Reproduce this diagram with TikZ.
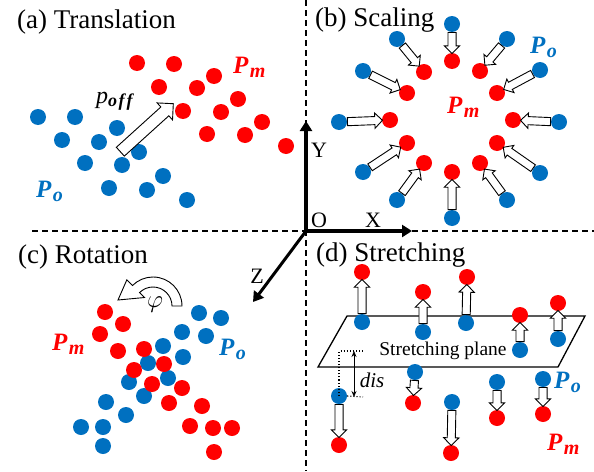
\documentclass[tikz,border=0pt]{standalone}
\usepackage{fontspec}
\setmainfont{LiberationSerif}[Extension=.ttf, UprightFont=*-Regular, BoldFont=*-Bold, ItalicFont=*-Italic, BoldItalicFont=*-BoldItalic]
\newfontfamily\tnr{LiberationSerif}[Extension=.ttf, UprightFont=*-Regular, BoldFont=*-Bold, ItalicFont=*-Italic, BoldItalicFont=*-BoldItalic]
\usetikzlibrary{shapes.arrows, arrows.meta, calc}
\definecolor{redc}{RGB}{255,0,0}
\definecolor{bluec}{RGB}{0,112,192}
\tikzset{
  every node/.style={font=\tnr},
  dot/.style={circle, inner sep=0pt, minimum size=16pt},
  bd/.style={dot, fill=bluec},
  rd/.style={dot, fill=redc},
  blk/.style={single arrow, draw=black, fill=white, line width=0.9pt, inner xsep=0pt, inner ysep=3.6pt,
    single arrow head extend=3.6pt, single arrow tip angle=90},
  bigblk/.style={blk, inner ysep=5.5pt, single arrow head extend=5.5pt},
  ttl/.style={anchor=base west, inner sep=0pt, font=\tnr\fontsize{27}{30}\selectfont},
  axl/.style={font=\tnr\fontsize{22}{24}\selectfont, inner sep=0pt},
  lbl/.style={anchor=base west, inner sep=0pt},
  axis/.style={line width=3.2pt, -{Triangle[length=10pt, width=12pt]}},
  sep/.style={dash pattern=on 6pt off 4pt, line width=1.2pt},
}
\newcommand\blkc[4][blk]{%
  \path let \p1=(#2), \p2=(#3), \n1={veclen(\x2-\x1,\y2-\y1)}, \n2={atan2(\y2-\y1,\x2-\x1)} in
    ($(\p1)!#4/2!(\p2)$) node[#1, anchor=tail, rotate=\n2, minimum height={\n1-#4}] {};}
\newcommand\PL[1]{{\tnr\fontsize{25}{28}\selectfont\bfseries\itshape P}\kern1.5pt\raisebox{-4.5pt}{\tnr\fontsize{20}{22}\selectfont\bfseries\itshape #1}}
\begin{document}
\begin{tikzpicture}[x=1pt, y=-1pt]
\useasboundingbox (0,0) rectangle (594,471);
% separators and axes
\coordinate (vt) at (306,0);
\coordinate (vb) at (306,471);
\coordinate (hl) at (32,231);
\coordinate (hr) at (594,231);
\draw[sep] (vt) -- (vb);
\draw[sep] (hl) -- (hr);
\coordinate (O) at (306,231);
\coordinate (Yt) at (306,121);
\coordinate (Xt) at (412,231);
\coordinate (Zt) at (253,302);
\draw[axis] (O) -- (Yt);
\draw[axis] (O) -- (Xt);
\draw[axis, line width=3pt] (O) -- (Zt);
\fill (304.4,229.4) rectangle (307.6,232.6);
\node[axl] (ly) at (319,150) {Y};
\node[axl] (lo) at (319,220) {O};
\node[axl] (lx) at (373,220) {X};
\node[axl] (lz) at (257,276) {Z};
% titles
\node[ttl] (ta) at (17,28) {(a) Translation};
\node[ttl] (tb) at (315,27) {(b) Scaling};
\node[ttl] (tc) at (18,263) {(c) Rotation};
\node[ttl] (td) at (316,261) {(d) Stretching};
% (a) translation
\foreach \x/\y [count=\i] in {137/63,174/64,214/76,159/87,197/88,238/99,183/111,221/112,262/122,207/134,245/135,286/146}
  \node[rd] (ar\i) at (\x,\y) {};
\foreach \x/\y [count=\i] in {38/117,75/117,117/128,62/140,99/142,139/152,85/163,122/165,163/176,109/188,147/190,187/200}
  \node[bd] (ab\i) at (\x,\y) {};
\coordinate (atail) at (120,152);
\coordinate (atip) at (173,104);
\blkc[bigblk]{atail}{atip}{0pt}
\node[lbl] (poff) at (96,103) {{\tnr\fontsize{24}{26}\selectfont\itshape p}\raisebox{-3pt}{\tnr\fontsize{18}{20}\selectfont\bfseries\itshape o\kern1.5pt f\kern2pt f}};
\node[lbl, text=redc] (pma) at (233,73) {\PL{m}};
\node[lbl, text=bluec] (poa) at (36,197) {\PL{o}};
% (b) scaling
\foreach \bx/\by/\rx/\ry [count=\i] in {452/24/452/61, 397/39/424/72, 507/39/480/71, 363/71/407/93, 540/70/497/93, 339/122/390/120, 559/122/513/120, 363/172/407/143, 540/173/497/143, 397/200/424/163, 507/200/480/163, 452/218/452/172}{
  \node[bd] (bb\i) at (\bx,\by) {};
  \node[rd] (br\i) at (\rx,\ry) {};
  \blkc{bb\i.center}{br\i.center}{16pt}
}
\node[lbl, text=bluec] (pob) at (530,53) {\PL{o}};
\node[lbl, text=redc] (pmb) at (447,113) {\PL{m}};
% (c) rotation
\foreach \x/\y [count=\i] in {199/313,221/318,182/332,206/336,163/346,183/357,148/363,168/378,129/382,144/396,106/402,126/415,81/427,103/427,103/446}
  \node[bd] (cb\i) at (\x,\y) {};
\foreach \x/\y [count=\i] in {105/312,123/324,100/334,118/351,144/349,164/364,134/370,152/384,182/388,169/403,202/406,190/426,213/428,232/428,214/452}
  \node[rd] (cr\i) at (\x,\y) {};
\begin{scope}[shift={(153,306)}, yscale=-1]
  \draw[fill=white, line width=0.9pt, line join=miter]
    (19,0) -- (29,0) arc[start angle=0, end angle=135, radius=29]
    -- (135:37) -- (-35,6) -- (135:12) -- (135:19)
    arc[start angle=135, end angle=0, radius=19] -- cycle;
\end{scope}
\node[inner sep=0pt] (phi) at (155,305) {\fontsize{24}{26}\selectfont$\varphi$};
\node[lbl, text=redc] (pmc) at (52,350) {\PL{m}};
\node[lbl, text=bluec] (poc) at (219,355) {\PL{o}};
% (d) stretching
\coordinate (pl1) at (347,316);
\coordinate (pl2) at (585,316);
\coordinate (pl3) at (558,367);
\coordinate (pl4) at (318,367);
\draw[line width=1.3pt] (pl1) -- (pl2) -- (pl3) -- (pl4) -- cycle;
\node[inner sep=0pt] (sp) at (443,351) {\tnr\fontsize{19.5}{22}\selectfont Stretching plane};
\foreach \bx/\by/\rx/\ry [count=\i] in {362/322/362/272, 423/332/423/292, 466/323/467/277, 520/350/520/315, 558/339/558/303, 339/396/339/445, 415/372/413/403, 452/402/451/453, 497/382/497/418, 543/379/543/414}{
  \node[bd] (db\i) at (\bx,\by) {};
  \node[rd] (dr\i) at (\rx,\ry) {};
  \blkc{db\i.center}{dr\i.center}{16pt}
}
\coordinate (dt1) at (339,351);
\coordinate (dt2) at (363,351);
\coordinate (dt3) at (363,397);
\draw[dotted, line width=1.1pt] (db6.center) -- (dt1) -- (dt2);
\draw[dotted, line width=1.1pt] (db6.east) -- (dt3);
\coordinate (da1) at (354,351);
\coordinate (da2) at (354,397);
\draw[line width=0.8pt, {Stealth[length=6pt,width=5pt]}-{Stealth[length=6pt,width=5pt]}] (da1) -- (da2);
\node[inner sep=0pt] (dis) at (372,380) {\tnr\fontsize{21}{22}\selectfont\itshape dis};
\node[lbl, text=bluec] (pod) at (554,388) {\PL{o}};
\node[lbl, text=redc] (pmd) at (547,450) {\PL{m}};
\end{tikzpicture}
\end{document}
